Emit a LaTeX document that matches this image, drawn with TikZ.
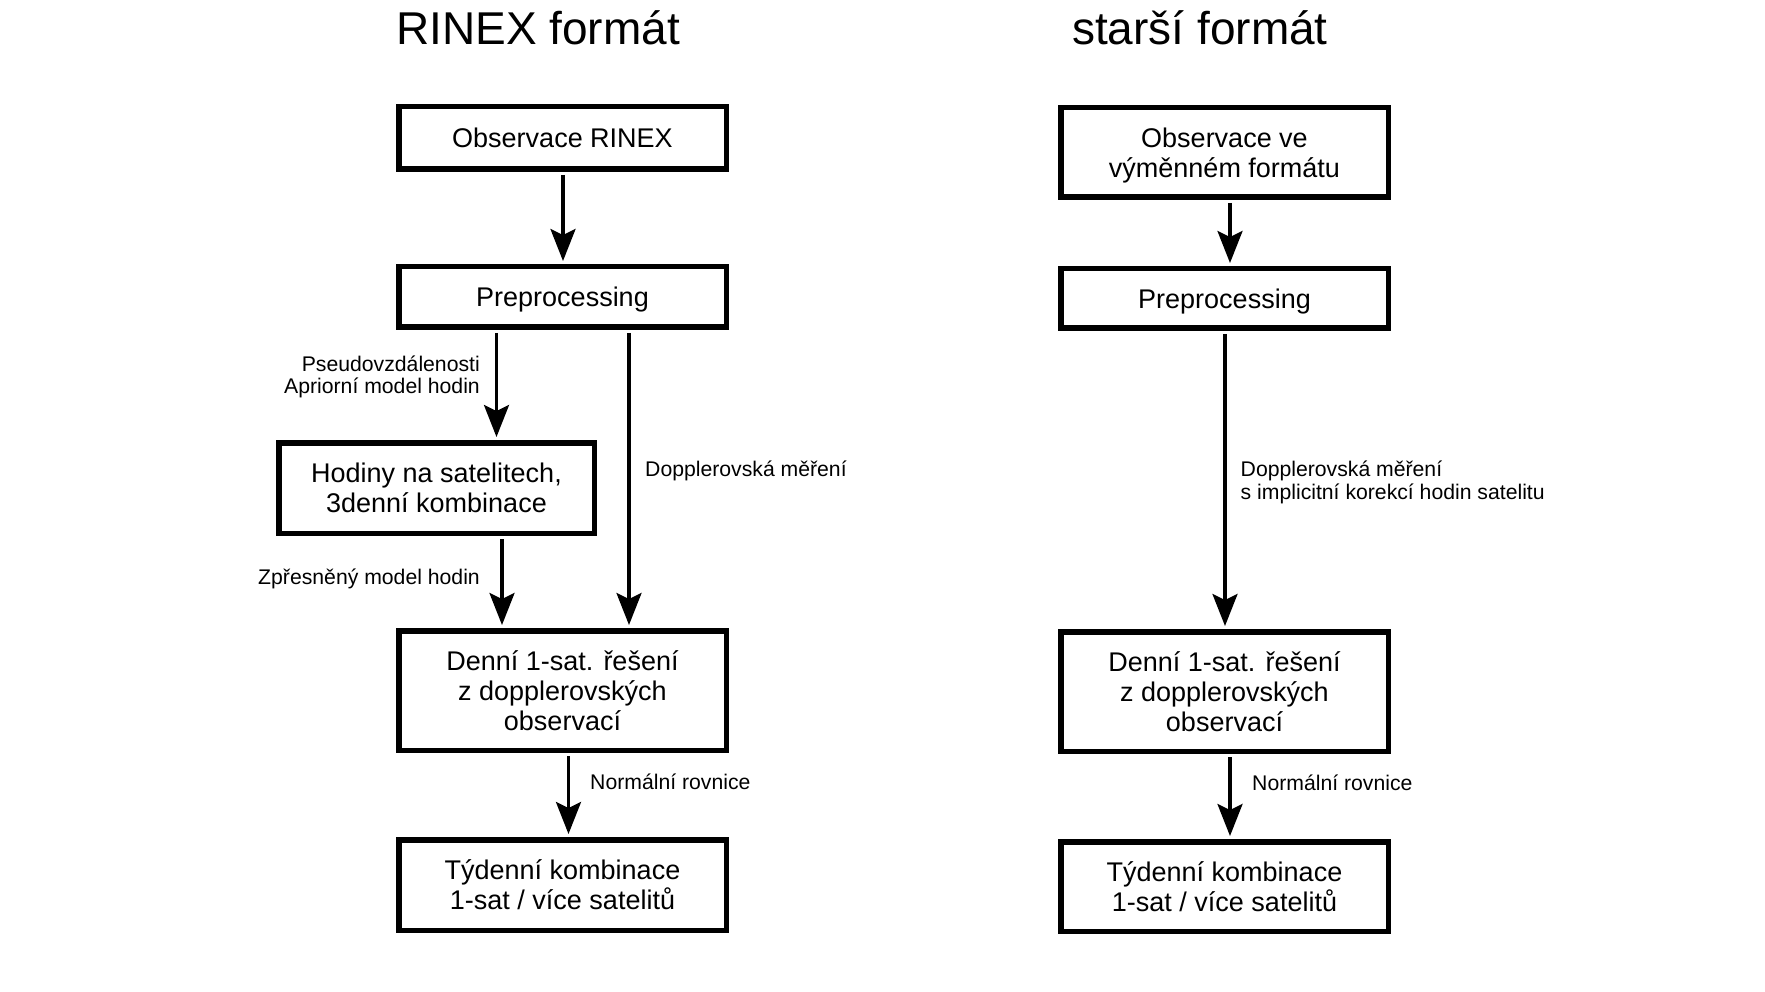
\documentclass[tikz,border=0pt]{standalone}
\usepackage{fontspec}
\setmainfont{Liberation Sans}
\usetikzlibrary{arrows.meta}
\begin{document}
\begin{tikzpicture}[x=1pt,y=-1pt,
  box/.style={draw, line width=5.5pt, minimum width=327.5pt, inner sep=0pt, align=center,
    font=\fontsize{27}{30}\selectfont},
  arr/.style={line width=3.2pt, -{Stealth[length=32pt,width=25pt,inset=6pt]}, shorten <=3pt, shorten >=3pt},
  lbl/.style={inner sep=0pt, font=\fontsize{21.2}{22.5}\selectfont},
  ttl/.style={inner sep=0pt, font=\fontsize{46}{50}\selectfont}]
\useasboundingbox (0,0) rectangle (1765,992);
% titles
\node[ttl, anchor=base] (t1) at (538,45) {RINEX formát};
\node[ttl, anchor=base] (t2) at (1200,45) {starší formát};
% left column
\node[box, minimum height=62.5pt] (L1) at (562.5,138) {Observace RINEX};
\node[box, minimum height=60.5pt, text depth=0pt] (L2) at (562.5,297) {Preprocessing};
\node[box, minimum width=315.5pt, minimum height=90.5pt] (L3) at (436.5,488) {Hodiny na satelitech,\\3denní kombinace};
\node[box, minimum height=119.5pt] (L4) at (562.5,690.5) {Denní 1-sat. řešení\\z dopplerovských\\observací};
\node[box, minimum height=90.5pt] (L5) at (562.5,885) {Týdenní kombinace\\1-sat / více satelitů};
% right column
\node[box, minimum height=89.5pt, text depth=0pt] (R1) at (1224.5,152.5) {Observace ve\\výměnném formátu};
\node[box, minimum height=59.5pt, text depth=0pt] (R2) at (1224.5,298.5) {Preprocessing};
\node[box, minimum height=119.5pt] (R3) at (1224.5,691.5) {Denní 1-sat. řešení\\z dopplerovských\\observací};
\node[box, minimum height=89.5pt] (R4) at (1224.5,886.5) {Týdenní kombinace\\1-sat / více satelitů};
% arrows left
\draw[arr] ([xshift=0.5pt]L1.south) -- ([xshift=0.5pt]L1.south |- L2.north);
\draw[arr] ([xshift=-66pt]L2.south) -- ([xshift=-66pt]L2.south |- L3.north);
\draw[arr] ([xshift=66.5pt]L2.south) -- ([xshift=66.5pt]L2.south |- L4.north);
\draw[arr] ([xshift=65.5pt]L3.south) -- ([xshift=65.5pt]L3.south |- L4.north);
\draw[arr] ([xshift=6pt]L4.south) -- ([xshift=6pt]L4.south |- L5.north);
% arrows right
\draw[arr] ([xshift=5.5pt]R1.south) -- ([xshift=5.5pt]R1.south |- R2.north);
\draw[arr] ([xshift=0.5pt]R2.south) -- ([xshift=0.5pt]R2.south |- R3.north);
\draw[arr] ([xshift=5.5pt]R3.south) -- ([xshift=5.5pt]R3.south |- R4.north);
% labels
\node[lbl, anchor=base east, align=right] (la) at (480,393.5) {Pseudovzdálenosti\\Apriorní model hodin};
\node[lbl, anchor=base west] (lb) at (645,476.7) {Dopplerovská měření};
\node[lbl, anchor=base east] (lc) at (480,584) {Zpřesněný model hodin};
\node[lbl, anchor=base west] (ld) at (590,789) {Normální rovnice};
\node[lbl, anchor=base west, align=left] (le) at (1240.5,499) {Dopplerovská měření\\s implicitní korekcí hodin satelitu};
\node[lbl, anchor=base west] (lf) at (1252,790) {Normální rovnice};
\end{tikzpicture}
\end{document}
